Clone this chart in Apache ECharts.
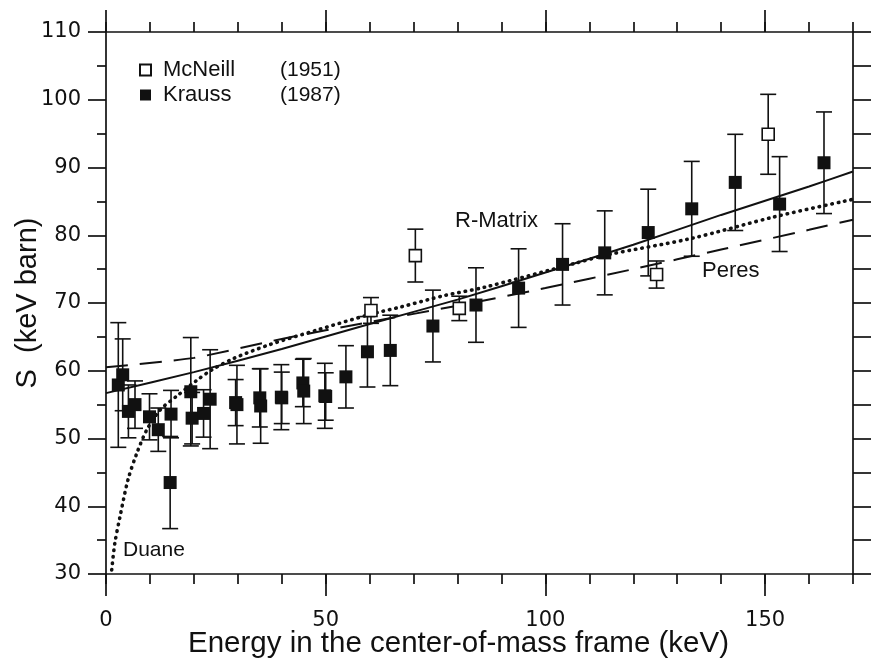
<!DOCTYPE html>
<html>
<head>
<meta charset="utf-8">
<script src="https://cdn.jsdelivr.net/npm/echarts@6/dist/echarts.min.js"></script>
<style>html,body{margin:0;padding:0;background:#fff}#c{width:895px;height:672px}</style>
</head>
<body>
<div id="c"></div>
<script>
// ---- data ----
const xMajorTicks = [0, 50, 100, 150];
const legendNames = ['McNeill', 'Krauss'];
const legendYears = ['(1951)', '(1987)'];

// Krauss (1987), filled squares
const krE   = [2.8, 3.8, 5.1, 6.6, 9.9, 11.9, 14.8, 14.6, 19.3, 19.6, 22.2, 23.7, 29.5, 29.8, 35.0, 35.2, 39.9, 40.0, 44.8, 45.0, 49.8, 50.0, 54.6, 59.5, 64.7, 74.4, 84.2, 93.9, 103.9, 113.5, 123.4, 133.3, 143.2, 153.3, 163.4];
const krS   = [57.9, 59.4, 54.0, 55.0, 53.2, 51.3, 53.6, 43.5, 56.9, 53.0, 53.7, 55.8, 55.3, 55.0, 56.0, 54.8, 56.1, 56.0, 58.2, 57.0, 56.3, 56.2, 59.1, 62.8, 63.0, 66.6, 69.7, 72.2, 75.7, 77.4, 80.4, 83.9, 87.8, 84.6, 90.7];
const krErr = [9.2, 5.3, 3.9, 3.5, 3.4, 3.2, 3.5, 6.8, 8.0, 3.8, 3.5, 7.3, 3.4, 5.8, 4.3, 5.5, 4.8, 3.8, 3.5, 4.8, 4.8, 3.5, 4.6, 5.2, 5.2, 5.3, 5.5, 5.8, 6.0, 6.2, 6.4, 7.0, 7.1, 7.0, 7.5];

// McNeill (1951), open squares
const mcE   = [60.3, 70.4, 80.4, 125.3, 150.7];
const mcS   = [68.9, 77.0, 69.2, 74.2, 94.9];
const mcErr = [1.9, 3.9, 1.8, 2.0, 5.9];

// R-Matrix fit (solid)
const rmE = [0, 20, 40, 60, 80, 100, 120, 140, 160, 170];
const rmS = [56.7, 59.8, 63.2, 66.9, 70.5, 74.5, 78.6, 83.0, 87.2, 89.4];
// Peres (dashed)
const peE = [0, 20, 40, 60, 80, 100, 120, 140, 160, 170];
const peS = [60.5, 61.9, 64.7, 67.2, 69.6, 72.2, 75.0, 77.9, 80.8, 82.3];
// Duane (dotted)
const duE = [1.3, 2.0, 3.2, 5.0, 7.0, 9.3, 12.3, 16.0, 20.7, 24.0, 29.0, 37.0, 48.0, 60.0, 67.0, 77.0, 86.0, 107.0, 114.0, 133.0, 152.0, 170.0];
const duS = [30.6, 34.5, 38.5, 43.9, 47.8, 51.3, 54.2, 56.2, 58.6, 60.1, 61.8, 63.8, 66.0, 68.3, 69.4, 71.1, 72.3, 75.9, 77.1, 79.5, 82.7, 85.3];

// ---- build ----
const zip2 = (a, b) => a.map((v, i) => [v, b[i]]);
const zip3 = (a, b, c) => a.map((v, i) => [v, b[i], c[i]]);

const SANS = '"Liberation Sans", Arial, sans-serif';
const TICKF = '"DejaVu Sans", sans-serif';
const INK = '#111';
const lineSt = { color: INK, width: 1.7 };

function errRender(params, api) {
  const x = api.value(0), y = api.value(1), e = api.value(2);
  const top = api.coord([x, y + e]);
  const bot = api.coord([x, y - e]);
  const hw = 8;
  const st = { stroke: INK, lineWidth: 1.6 };
  return {
    type: 'group',
    children: [
      { type: 'line', shape: { x1: top[0], y1: top[1], x2: bot[0], y2: bot[1] }, style: st },
      { type: 'line', shape: { x1: top[0] - hw, y1: top[1], x2: top[0] + hw, y2: top[1] }, style: st },
      { type: 'line', shape: { x1: bot[0] - hw, y1: bot[1], x2: bot[0] + hw, y2: bot[1] }, style: st }
    ]
  };
}

const xBase = { type: 'value', min: 0, max: 170, gridIndex: 0, splitLine: { show: false } };
const chart = echarts.init(document.getElementById('c'), null, { renderer: 'canvas' });
chart.setOption({
  animation: false,
  backgroundColor: '#fff',
  grid: { left: 106, right: 42, top: 32, bottom: 98, containLabel: false, outerBoundsMode: 'none' },
  xAxis: [
    Object.assign({}, xBase, {
      position: 'bottom', interval: 50,
      axisLine: { show: true, onZero: false, lineStyle: lineSt },
      axisTick: { show: true, length: 22, customValues: xMajorTicks, lineStyle: lineSt },
      axisLabel: { customValues: xMajorTicks, margin: 36, fontSize: 21, fontFamily: TICKF, color: INK },
      name: 'Energy in the center-of-mass frame (keV)',
      nameLocation: 'middle', nameGap: 55, nameMoveOverlap: false,
      nameTextStyle: { fontFamily: SANS, fontSize: 29.5, color: INK, padding: [0, 42, 0, 0] }
    }),
    Object.assign({}, xBase, {
      position: 'bottom', interval: 10,
      axisLine: { show: false, onZero: false },
      axisTick: { show: true, length: 10, lineStyle: lineSt },
      axisLabel: { show: false }
    }),
    Object.assign({}, xBase, {
      position: 'top', interval: 50,
      axisLine: { show: true, onZero: false, lineStyle: lineSt },
      axisTick: { show: true, length: 22, customValues: xMajorTicks, lineStyle: lineSt },
      axisLabel: { show: false }
    }),
    Object.assign({}, xBase, {
      position: 'top', interval: 10,
      axisLine: { show: false, onZero: false },
      axisTick: { show: true, length: 10, lineStyle: lineSt },
      axisLabel: { show: false }
    })
  ],
  yAxis: [
    {
      type: 'value', min: 30, max: 110, interval: 10, position: 'left',
      axisLine: { show: true, onZero: false, lineStyle: lineSt },
      axisTick: { show: true, length: 18, lineStyle: lineSt },
      minorTick: { show: true, splitNumber: 2, length: 9, lineStyle: lineSt },
      splitLine: { show: false },
      axisLabel: { margin: 25, fontSize: 21, fontFamily: TICKF, color: INK },
      name: 'S  (keV barn)', nameLocation: 'middle', nameGap: 64, nameRotate: 90, nameMoveOverlap: false,
      nameTextStyle: { fontFamily: SANS, fontSize: 29, color: INK }
    },
    {
      type: 'value', min: 30, max: 110, interval: 5, position: 'right',
      axisLine: { show: true, onZero: false, lineStyle: lineSt },
      axisTick: { show: true, length: 18, lineStyle: lineSt },
      splitLine: { show: false },
      axisLabel: { show: false }
    }
  ],
  legend: {
    data: legendNames,
    orient: 'vertical', left: 134, top: 54,
    itemWidth: 11, itemHeight: 11, itemGap: 3,
    selectedMode: false,
    formatter: function (name) {
      const i = legendNames.indexOf(name);
      return '{a|' + name + '}{b|' + legendYears[i] + '}';
    },
    textStyle: {
      fontFamily: SANS, fontSize: 22, color: INK, padding: [0, 0, 0, 7],
      rich: {
        a: { fontFamily: SANS, fontSize: 22, color: INK, width: 117, lineHeight: 24 },
        b: { fontFamily: SANS, fontSize: 21, color: INK, lineHeight: 24 }
      }
    }
  },
  graphic: [
    { type: 'text', left: 455, top: 210, style: { text: 'R-Matrix', font: '22px ' + SANS, fill: INK } },
    { type: 'text', left: 702, top: 260, style: { text: 'Peres', font: '22px ' + SANS, fill: INK } },
    { type: 'text', left: 123, top: 540, style: { text: 'Duane', font: '21px ' + SANS, fill: INK } }
  ],
  series: [
    { name: 'R-Matrix', type: 'line', data: zip2(rmE, rmS), symbol: 'none', smooth: 0.2,
      lineStyle: { color: INK, width: 2 }, z: 3 },
    { name: 'Peres', type: 'line', data: zip2(peE, peS), symbol: 'none', smooth: 0.2,
      lineStyle: { color: INK, width: 2, type: [22, 12] }, z: 3 },
    { name: 'Duane', type: 'line', data: zip2(duE, duS), symbol: 'none', smooth: 0.3,
      lineStyle: { color: INK, width: 3.6, type: [0.5, 6], cap: 'round' }, z: 3 },
    { name: 'errMc', type: 'custom', data: zip3(mcE, mcS, mcErr), renderItem: errRender,
      encode: { x: 0, y: 1 }, z: 4, silent: true },
    { name: 'errKr', type: 'custom', data: zip3(krE, krS, krErr), renderItem: errRender,
      encode: { x: 0, y: 1 }, z: 4, silent: true },
    { name: 'McNeill', type: 'scatter', data: zip2(mcE, mcS), symbol: 'rect', symbolSize: 12,
      itemStyle: { color: '#fff', borderColor: INK, borderWidth: 1.6, opacity: 1 }, z: 5 },
    { name: 'Krauss', type: 'scatter', data: zip2(krE, krS), symbol: 'rect', symbolSize: 13,
      itemStyle: { color: INK, borderColor: INK, borderWidth: 0, opacity: 1 }, z: 6 }
  ]
});
</script>
</body>
</html>
